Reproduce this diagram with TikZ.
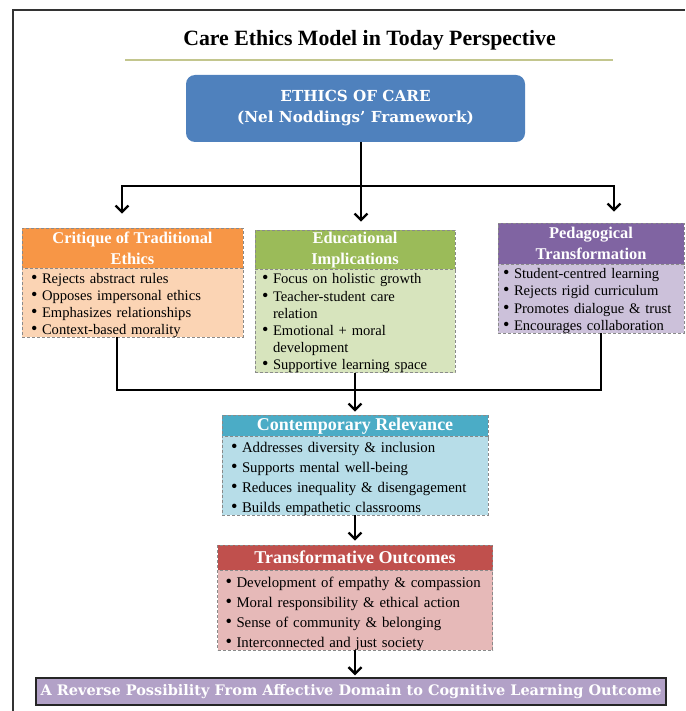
\documentclass[tikz,border=0pt]{standalone}
\usepackage{fontspec}
\setmainfont{Liberation Serif}
\newfontfamily\slabfont{DejaVu Serif}
\usetikzlibrary{arrows.meta}

\definecolor{careblue}{HTML}{4F81BD}
\definecolor{orangehd}{HTML}{F79646}
\definecolor{orangebd}{HTML}{FBD4B4}
\definecolor{greenhd}{HTML}{9BBB59}
\definecolor{greenbd}{HTML}{D7E4BD}
\definecolor{purplehd}{HTML}{8064A2}
\definecolor{purplebd}{HTML}{CCC1DA}
\definecolor{tealhd}{HTML}{4BACC6}
\definecolor{tealbd}{HTML}{B7DDE8}
\definecolor{redhd}{HTML}{C0504D}
\definecolor{redbd}{HTML}{E6B9B8}
\definecolor{lavender}{HTML}{B2A1C7}
\definecolor{olivebar}{HTML}{C3C68E}
\definecolor{dashgray}{HTML}{8A8A8A}

% bullet marker and hanging indent for continued lines
\newcommand{\bul}{\makebox[11pt][l]{\scalebox{1.25}{\textbullet}}}
\newcommand{\cnt}{\hspace*{11pt}}
% bullet list lowered by #1 without changing its box
\newcommand{\lst}[2]{\raisebox{-#1}[\height][\depth]{\begin{tabular}{@{}l@{}}#2\end{tabular}}}

\begin{document}
\begin{tikzpicture}[x=1pt,y=-1pt,
  panel/.style={rectangle, draw=dashgray, densely dashed, line width=0.6pt},
  hdr/.style={panel, inner sep=0pt, text=white, align=center,
    font=\fontsize{16.4}{21}\selectfont\bfseries},
  bigheader/.style={hdr, font=\fontsize{18}{20}\selectfont\bfseries},
  listbody/.style={panel, inner ysep=0pt, align=left, text=black,
    font=\fontsize{14.6}{17.2}\selectfont},
  widelist/.style={listbody, font=\fontsize{14.8}{19.8}\selectfont},
  link/.style={line width=2.3pt, black},
  arr/.style={link, -{Straight Barb[length=6.5pt,width=13pt]}}
]
\useasboundingbox (0,0) rectangle (685,711);

% page frame
\draw[line width=1.6pt, black!80] (13,711) -- (13,10) -- (685,10);

% title and rule
\node[font=\fontsize{21.8}{24}\selectfont\bfseries] (title) at (369.5,40)
  {Care Ethics Model in Today Perspective};
\draw[olivebar, line width=1.1pt] (125,60) -- (613,60);

% root box
\node[rectangle, rounded corners=9pt, fill=careblue, text=white,
  minimum width=339pt, minimum height=67pt, align=center,
  font=\slabfont\fontsize{15.2}{21}\selectfont\bfseries] (root) at (355.5,108.5)
  {ETHICS OF CARE\\(Nel Noddings’ Framework)};

% critique panel
\node[hdr, fill=orangehd, minimum width=221pt, minimum height=40pt] (crith) at (132.5,248)
  {Critique of Traditional\\Ethics};
\node[listbody, fill=orangebd, text width=203pt, inner xsep=9pt, minimum height=69pt] (critb) at (132.5,302.5)
  {\lst{3pt}{\bul Rejects abstract rules\\\bul Opposes impersonal ethics\\\bul Emphasizes relationships\\\bul Context-based morality}};

% educational panel
\node[hdr, fill=greenhd, minimum width=200pt, minimum height=40pt] (eduh) at (355,250)
  {Educational\\Implications};
\node[listbody, fill=greenbd, text width=186pt, inner xsep=7pt, minimum height=102pt] (edub) at (355,321)
  {\lst{2.5pt}{\bul Focus on holistic growth\\\bul Teacher-student care\\\cnt relation\\\bul Emotional + moral\\\cnt development\\\bul Supportive learning space}};

% pedagogical panel
\node[hdr, fill=purplehd, minimum width=186pt, minimum height=41pt] (pedh) at (591,243.5)
  {Pedagogical\\Transformation};
\node[listbody, fill=purplebd, text width=176pt, inner xsep=5pt, minimum height=69pt] (pedb) at (591,298.5)
  {\lst{2.5pt}{\bul Student-centred learning\\\bul Rejects rigid curriculum\\\bul Promotes dialogue \& trust\\\bul Encourages collaboration}};

% contemporary relevance panel
\node[bigheader, fill=tealhd, minimum width=266pt, minimum height=22pt] (conth) at (355,426)
  {Contemporary Relevance};
\node[widelist, fill=tealbd, text width=248pt, inner xsep=9pt, minimum height=77pt] (contb) at (355,475.5)
  {\lst{3pt}{\bul Addresses diversity \& inclusion\\\bul Supports mental well-being\\\bul Reduces inequality \& disengagement\\\bul Builds empathetic classrooms}};

% transformative outcomes panel
\node[bigheader, fill=redhd, minimum width=275pt, minimum height=25pt] (transh) at (355,557.5)
  {Transformative Outcomes};
\node[widelist, fill=redbd, text width=259pt, inner xsep=8pt, minimum height=80pt] (transb) at (355,610)
  {\lst{3.5pt}{\bul Development of empathy \& compassion\\\bul Moral responsibility \& ethical action\\\bul Sense of community \& belonging\\\bul Interconnected and just society}};

% closing banner
\node[rectangle, draw=black!85, line width=1.5pt, fill=lavender, text=white,
  minimum width=630pt, minimum height=27pt, inner sep=0pt,
  font=\slabfont\fontsize{14.5}{16}\selectfont\bfseries] (outcome) at (351,691.5)
  {A Reverse Possibility From Affective Domain to Cognitive Learning Outcome};

% upper distribution
\coordinate (split) at (361,186);
\draw[link] ([xshift=5.5pt]root.south) -- (split);
\draw[arr, shorten >=14pt] (split) -| ([xshift=-10.5pt]crith.north);
\draw[arr, shorten >=11pt] (split) -| ([xshift=23pt]pedh.north);
\draw[arr, shorten >=8pt] ([xshift=5.5pt]root.south) -- ([xshift=6pt]eduh.north);

% lower merge
\coordinate (merge) at (355,390);
\draw[link] ([xshift=-15.5pt]critb.south) |- (merge) -| ([xshift=10pt]pedb.south);
\draw[arr, shorten >=3pt] (edub.south) -- (conth.north);

% chain to outcomes
\draw[arr, shorten >=4pt] (contb.south) -- (transh.north);
\draw[arr, shorten >=2pt] (transb.south) -- (transb.south |- outcome.north);
\end{tikzpicture}
\end{document}
